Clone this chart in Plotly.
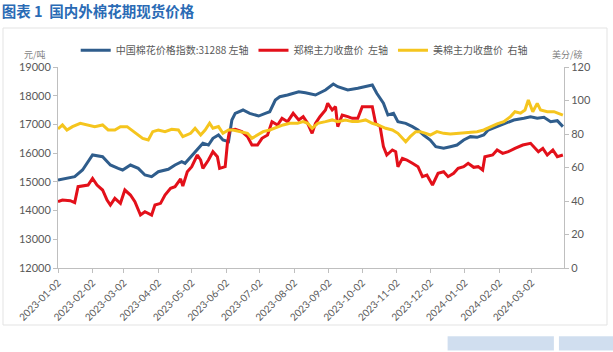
import plotly.graph_objects as go

# ---- data ----
cn_dates = ["2023-01-02","2023-01-17","2023-01-24","2023-02-02","2023-02-11","2023-02-18","2023-02-25","2023-03-01",
    "2023-03-08","2023-03-15","2023-03-21","2023-03-27","2023-04-02","2023-04-11","2023-04-17","2023-04-23","2023-04-26",
    "2023-05-03","2023-05-08","2023-05-12","2023-05-17","2023-05-21","2023-05-26","2023-05-30","2023-06-04","2023-06-07",
    "2023-06-10","2023-06-17","2023-06-23","2023-07-01","2023-07-07","2023-07-11","2023-07-16","2023-07-20","2023-07-27",
    "2023-08-01","2023-08-06","2023-08-12","2023-08-21","2023-08-30","2023-09-06","2023-09-10","2023-09-19","2023-09-28",
    "2023-10-06","2023-10-11","2023-10-15","2023-10-21","2023-10-25","2023-10-30","2023-11-03","2023-11-10","2023-11-16",
    "2023-11-21","2023-11-26","2023-12-02","2023-12-07","2023-12-14","2023-12-20","2023-12-26","2024-01-01","2024-01-07",
    "2024-01-13","2024-01-19","2024-01-23","2024-01-31","2024-02-06","2024-02-15","2024-02-24","2024-03-01","2024-03-07",
    "2024-03-13","2024-03-19","2024-03-25","2024-03-30"]
cn_index = [15064,15180,15413,15935,15876,15587,15470,15413,
    15587,15470,15238,15180,15354,15437,15587,15703,15646,
    15935,16168,16342,16283,16516,16632,16458,16400,17154,
    17387,17502,17387,17293,17387,17443,17850,17966,18025,
    18084,18140,18105,18025,18199,18408,18314,18199,18257,
    18314,18373,18084,17736,17328,17387,17096,17038,16923,
    16806,16632,16458,16225,16168,16225,16283,16458,16574,
    16551,16632,16806,16923,17038,17154,17213,17270,17213,
    17248,17096,17131,16923]

zz_dates = ["2023-01-02","2023-01-06","2023-01-13","2023-01-17","2023-01-20","2023-01-29","2023-02-02","2023-02-06",
    "2023-02-11","2023-02-15","2023-02-18","2023-02-22","2023-02-27","2023-03-03","2023-03-08","2023-03-12","2023-03-17",
    "2023-03-21","2023-03-27","2023-03-30","2023-04-04","2023-04-08","2023-04-13","2023-04-17","2023-04-22","2023-04-24",
    "2023-04-28","2023-05-02","2023-05-07","2023-05-10","2023-05-12","2023-05-17","2023-05-21","2023-05-25","2023-05-27",
    "2023-06-01","2023-06-03","2023-06-05","2023-06-10","2023-06-16","2023-06-21","2023-06-25","2023-06-30","2023-07-04",
    "2023-07-09","2023-07-13","2023-07-18","2023-07-22","2023-07-27","2023-08-01","2023-08-06","2023-08-10","2023-08-14",
    "2023-08-18","2023-08-21","2023-08-25","2023-08-30","2023-09-01","2023-09-05","2023-09-08","2023-09-10","2023-09-14",
    "2023-09-19","2023-09-23","2023-09-28","2023-10-02","2023-10-11","2023-10-14","2023-10-18","2023-10-21","2023-10-24",
    "2023-10-29","2023-11-01","2023-11-03","2023-11-07","2023-11-11","2023-11-16","2023-11-21","2023-11-25","2023-11-29",
    "2023-12-04","2023-12-09","2023-12-14","2023-12-18","2023-12-23","2023-12-27","2024-01-01","2024-01-05","2024-01-10",
    "2024-01-14","2024-01-18","2024-01-20","2024-01-27","2024-01-31","2024-02-05","2024-02-10","2024-02-16","2024-02-23",
    "2024-03-01","2024-03-04","2024-03-08","2024-03-12","2024-03-16","2024-03-21","2024-03-25","2024-03-30"]
zz_close = [14309,14367,14344,14275,14832,14890,15123,14890,
    14716,14367,14193,14426,14252,14716,14542,14309,13845,
    13961,13845,14193,14252,14542,14774,14832,15100,14850,
    15354,15529,15935,15761,15470,15761,16050,15876,15470,
    15529,16342,16806,16830,16748,16574,16283,16283,16516,
    16632,17096,16980,17213,17096,17387,17154,17270,17038,
    16690,17038,17270,17502,17736,17502,17618,16923,17328,
    17270,17213,17213,17618,17618,17038,16923,16225,15935,
    16110,16050,15529,15819,15761,15646,15529,15180,15238,
    14890,15297,15354,15180,15297,15470,15529,15646,15506,
    15529,15413,15876,15935,16110,15993,16050,16168,16283,
    16342,16225,16050,16168,15935,16110,15876,15935]

us_dates = ["2023-01-02","2023-01-06","2023-01-10","2023-01-15","2023-01-22","2023-01-29","2023-02-04","2023-02-11",
    "2023-02-16","2023-02-22","2023-02-27","2023-03-05","2023-03-09","2023-03-14","2023-03-19","2023-03-24","2023-03-28",
    "2023-04-02","2023-04-08","2023-04-14","2023-04-20","2023-04-24","2023-05-01","2023-05-05","2023-05-10","2023-05-14",
    "2023-05-18","2023-05-21","2023-05-26","2023-05-30","2023-06-04","2023-06-08","2023-06-14","2023-06-21","2023-06-25",
    "2023-06-30","2023-07-05","2023-07-11","2023-07-18","2023-07-23","2023-07-29","2023-08-05","2023-08-10","2023-08-14",
    "2023-08-18","2023-08-23","2023-08-30","2023-09-05","2023-09-10","2023-09-17","2023-09-23","2023-09-28","2023-10-05",
    "2023-10-11","2023-10-16","2023-10-23","2023-10-29","2023-11-03","2023-11-10","2023-11-14","2023-11-19","2023-11-23",
    "2023-11-28","2023-12-02","2023-12-08","2023-12-14","2023-12-20","2023-12-26","2024-01-01","2024-01-07","2024-01-13",
    "2024-01-19","2024-01-25","2024-01-31","2024-02-06","2024-02-12","2024-02-16","2024-02-21","2024-02-25","2024-02-28",
    "2024-03-03","2024-03-07","2024-03-10","2024-03-16","2024-03-22","2024-03-26","2024-03-30"]
us_close = [83.0,85.4,82.4,84.4,86.4,85.4,84.4,85.4,
    82.4,82.4,84.4,84.4,82.4,79.4,77.4,76.4,81.4,
    82.4,81.4,82.8,82.4,78.4,80.4,83.4,79.4,82.4,
    86.4,83.4,84.4,80.4,82.4,82.4,81.4,80.4,77.4,
    79.4,81.4,82.4,84.4,85.4,86.4,86.4,87.4,86.4,
    83.4,86.4,87.4,88.4,87.4,88.4,87.4,87.4,88.4,
    86.4,85.4,83.4,82.4,80.4,75.4,78.4,81.4,81.4,
    80.4,79.4,81.4,80.4,80.0,80.4,80.4,80.8,81.4,
    82.4,84.4,86.0,87.4,90.4,93.3,92.4,94.3,100.3,
    93.3,98.3,94.3,93.3,93.3,92.4,91.3]

tick_dates = ["2023-01-02","2023-02-02","2023-03-02","2023-04-02","2023-05-02","2023-06-02","2023-07-02",
    "2023-08-02","2023-09-02","2023-10-02","2023-11-02","2023-12-02","2024-01-02","2024-02-02","2024-03-02"]

names = ["中国棉花价格指数:31288 左轴", "郑棉主力收盘价  左轴", "美棉主力收盘价  右轴"]
colors = ["#2f5d8c", "#e3101a", "#f5c51e"]

FONT = "Lato, 'Noto Sans CJK SC', sans-serif"
CJK = "'Noto Sans CJK SC', sans-serif"

fig = go.Figure()
fig.add_trace(go.Scatter(x=cn_dates, y=cn_index, name=names[0], mode="lines",
                         line=dict(color=colors[0], width=3)))
fig.add_trace(go.Scatter(x=zz_dates, y=zz_close, name=names[1], mode="lines",
                         line=dict(color=colors[1], width=3)))
fig.add_trace(go.Scatter(x=us_dates, y=us_close, name=names[2], mode="lines", yaxis="y2",
                         line=dict(color=colors[2], width=3)))

axis_col = "#bfbfbf"
tick_font = dict(family=FONT, size=11, color="#595959")

fig.update_layout(
    width=613, height=352,
    margin=dict(l=58, r=49, t=67, b=84),
    paper_bgcolor="white", plot_bgcolor="white",
    showlegend=True,
    legend=dict(orientation="h", x=0.035, y=1.155, xanchor="left", yanchor="top",
                font=dict(family=CJK, size=10, color="#595959"),
                bgcolor="rgba(0,0,0,0)", itemwidth=30, tracegroupgap=0),
    title=dict(text="<b>图表 1  国内外棉花期现货价格</b>", xref="container", yref="container",
               x=0.003, y=0.98, xanchor="left", yanchor="top",
               font=dict(family=CJK, size=14.5, color="#2a6bb5")),
    xaxis=dict(type="date", range=["2023-01-02", "2024-03-31"],
               tickmode="array", tickvals=tick_dates, ticktext=tick_dates,
               tickangle=-45, tickfont=dict(family=FONT, size=10, color="#595959"),
               showline=True, linecolor=axis_col, linewidth=1,
               ticks="outside", ticklen=4, tickcolor=axis_col,
               showgrid=False, zeroline=False),
    yaxis=dict(range=[12000, 19000], dtick=1000, tickformat="d",
               tickfont=tick_font, showline=True, linecolor=axis_col, linewidth=1,
               ticks="outside", ticklen=4, tickcolor=axis_col,
               showgrid=False, zeroline=False),
    yaxis2=dict(range=[0, 120], dtick=20, overlaying="y", side="right",
                tickfont=tick_font, showline=True, linecolor=axis_col, linewidth=1,
                ticks="outside", ticklen=4, tickcolor=axis_col,
                showgrid=False, zeroline=False),
    shapes=[dict(type="rect", xref="paper", yref="paper",
                 x0=-0.1087, x1=1.085, y0=-0.2836, y1=1.194,
                 line=dict(color="#e3e3e3", width=1), fillcolor="rgba(0,0,0,0)", layer="below"),
            dict(type="rect", xref="paper", yref="paper",
                 x0=0.77, x1=0.98, y0=-0.41, y1=-0.34,
                 line=dict(width=0), fillcolor="rgba(120,160,210,0.35)", layer="below"),
            dict(type="rect", xref="paper", yref="paper",
                 x0=0.99, x1=1.10, y0=-0.41, y1=-0.34,
                 line=dict(width=0), fillcolor="rgba(120,160,210,0.35)", layer="below")],
    annotations=[dict(text="元/吨", xref="paper", yref="paper", x=-0.071, y=1.104,
                      showarrow=False, font=dict(family=CJK, size=9, color="#7f7f7f")),
                 dict(text="美分/磅", xref="paper", yref="paper", x=1.0415, y=1.104,
                      showarrow=False, font=dict(family=CJK, size=9, color="#7f7f7f"))],
)

fig.write_html("out.html")
